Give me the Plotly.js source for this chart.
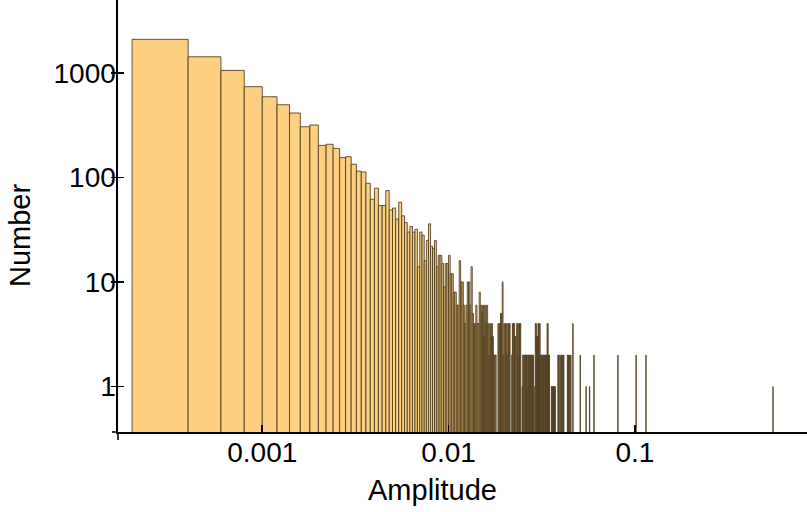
<!DOCTYPE html>
<html>
<head>
<meta charset="utf-8">
<script src="https://cdn.plot.ly/plotly-3.0.1.min.js"></script>
<style>html,body{margin:0;padding:0;background:#fff;}#chart{width:807px;height:512px;}</style>
</head>
<body>
<div id="chart"></div>
<script>
// Histogram of amplitudes, bin width 0.0002; bin k covers [k*binWidth, (k+1)*binWidth]
const binWidth = 0.0002;
// counts for bins k = 1, 2, 3, ... (dense part)
const denseCounts = [
  2100,1430,1060,740,593,497,414,306,318,203,
  208,190,155,158,134,115,113,88,62,79,
  54,54,75,49,51,40,58,43,37,30,
  34,30,32,14,30,28,16,25,36,22,
  21,25,14,18,18,15,9,15,15,18,
  12,12,8,8,6,6,16,10,10,6,
  4,6,10,10,6,14,5,4,4,6,
  4,4,8,6,5,6,3,6,4,6,
  4,2,4,3,4,3,2,2,2,0,
  0,4,4,4,5,5,10,2,4,0,
  4,4,2,4,4,4,0,0,2,4,
  4,4,3,3,0,4,4,2,4,4,
  4,0,0,1,2,2,0,2,2,2,
  0,2,1,2,2,0,2,2,2,1,
  2,2,0,0,1,4,4,3,3,0,
  4,4,2,4,2,2,0,2,2,0,
  2,2,0,2,2,0,2,2,4,4,
  0,2,2,0,0,0,0,1,1,0,
  1,1,0,1,1,1,0
];
// sparse tail: bin indices and counts
const tailBins   = [193,195,198,201,204,207,217,220,223,226,232,254,273,285,301,405,507,573,2756];
const tailCounts = [2,  2,  2,  2,  2,  2,  2,  2,  2,  2,  4,  2,  1,  1,  2,  2,  2,  2,  1];

const xTickVals = [0.001, 0.01, 0.1];
const xTickText = ['0.001', '0.01', '0.1'];
const yTickVals = [1, 10, 100, 1000];
const yTickText = ['1', '10', '100', '1000'];

const xs = [], ys = [], ws = [];
denseCounts.forEach((c, i) => {
  const k = i + 1;
  if (c > 0) { xs.push((k + 0.5) * binWidth); ys.push(c); ws.push(binWidth); }
});
tailBins.forEach((k, i) => {
  if (tailCounts[i] > 0) { xs.push((k + 0.5) * binWidth); ys.push(tailCounts[i]); ws.push(binWidth); }
});

const FONT = 'Liberation Sans, Arial, Helvetica, sans-serif';
const yRange = [-0.4354, 3.6986];

const traces = [{
  type: 'bar', x: xs, y: ys, width: ws,
  marker: { color: 'rgb(252,208,128)', line: { color: 'rgba(75,58,28,0.85)', width: 1 } },
  hoverinfo: 'skip'
}, {
  type: 'scatter', x: [0.001], y: [1], yaxis: 'y2', mode: 'markers',
  marker: { opacity: 0 }, hoverinfo: 'skip', showlegend: false
}];

const axisCommon = {
  showgrid: false, zeroline: false, showline: true,
  linecolor: '#000', linewidth: 1.6,
  tickcolor: '#000', tickwidth: 1.6,
  tickfont: { family: FONT, size: 28, color: '#000' }
};

const layout = {
  width: 807, height: 512,
  margin: { l: 118, r: 0, t: 0, b: 80, pad: 0 },
  paper_bgcolor: '#fff', plot_bgcolor: '#fff',
  showlegend: false, bargap: 0,
  font: { family: FONT, size: 28, color: '#000' },
  xaxis: Object.assign({}, axisCommon, {
    type: 'log', range: [-3.7745, -0.0762],
    ticks: 'inside', ticklen: 7,
    tickvals: xTickVals, ticktext: xTickText,
    ticklabelstandoff: -5
  }),
  yaxis: Object.assign({}, axisCommon, {
    type: 'log', range: yRange,
    ticks: 'outside', ticklen: 5,
    tickvals: yTickVals, ticktext: yTickText,
    ticklabelstandoff: -10
  }),
  yaxis2: {
    type: 'log', range: yRange, overlaying: 'y', side: 'left',
    showgrid: false, zeroline: false, showline: false,
    ticks: 'inside', ticklen: 6, tickwidth: 1.6, tickcolor: '#000',
    tickvals: yTickVals, showticklabels: false
  },
  shapes: [
    { type: 'line', xref: 'paper', yref: 'paper', x0: -6/689, x1: 0, y0: 0, y1: 0,
      line: { color: '#000', width: 1.6 } },
    { type: 'line', xref: 'paper', yref: 'paper', x0: 0, x1: 0, y0: 0, y1: -8/432,
      line: { color: '#000', width: 1.6 } }
  ],
  annotations: [
    { text: 'Amplitude', xref: 'paper', yref: 'paper', x: (432 - 118) / 689, y: -(490 - 432) / 432,
      xanchor: 'center', yanchor: 'middle', showarrow: false,
      font: { family: FONT, size: 29, color: '#000' } },
    { text: 'Number', xref: 'paper', yref: 'paper', x: -(118 - 20) / 689, y: 1 - 236 / 432,
      xanchor: 'center', yanchor: 'middle', textangle: -90, showarrow: false,
      font: { family: FONT, size: 29, color: '#000' } }
  ]
};

Plotly.newPlot('chart', traces, layout, { staticPlot: true, displayModeBar: false });
</script>
</body>
</html>
